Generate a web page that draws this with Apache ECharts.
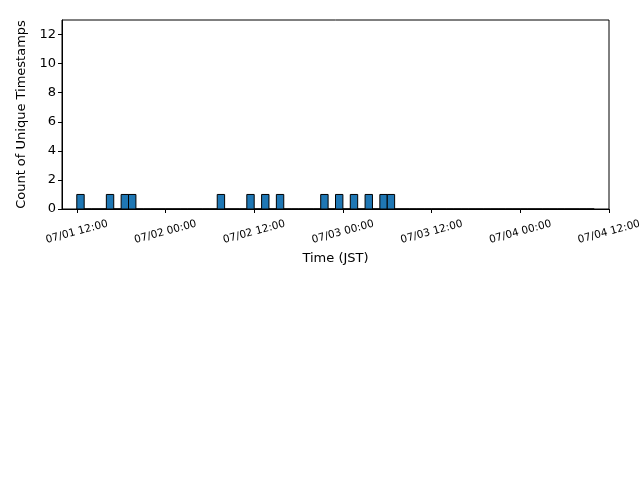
<!DOCTYPE html>
<html>
<head>
<meta charset="utf-8">
<script src="https://cdn.jsdelivr.net/npm/echarts@6/dist/echarts.min.js"></script>
<style>
  html, body { margin: 0; padding: 0; background: #fff; }
  #chart { width: 640px; height: 480px; }
</style>
</head>
<body>
<div id="chart"></div>
<script>
// hourly bins, hour 0 = 07/01 12:00 JST
const binCounts = [
  1, 0, 0, 0, 1, 0, 1, 1, 0, 0, 0, 0, 0, 0, 0, 0, 0, 0, 0, 1,
  0, 0, 0, 1, 0, 1, 0, 1, 0, 0, 0, 0, 0, 1, 0, 1, 0, 1, 0, 1,
  0, 1, 1, 0, 0, 0, 0, 0, 0, 0, 0, 0, 0, 0, 0, 0, 0, 0, 0, 0,
  0, 0, 0, 0, 0, 0, 0, 0, 0, 0
];
const tickHours = [0, 12, 24, 36, 48, 60, 72];
const tickLabels = ['07/01 12:00', '07/02 00:00', '07/02 12:00', '07/03 00:00', '07/03 12:00', '07/04 00:00', '07/04 12:00'];
const yTicks = [0, 2, 4, 6, 8, 10, 12];

const font = 'DejaVu Sans';
const chart = echarts.init(document.getElementById('chart'));

const bins = binCounts.map((c, i) => [i, i + 1, c]);

chart.setOption({
  animation: false,
  backgroundColor: '#fff',
  grid: {
    left: 62, right: 31, top: 20, bottom: 271,
    outerBoundsMode: 'none', containLabel: false,
    show: true, borderColor: '#000', borderWidth: 1
  },
  xAxis: {
    type: 'value', min: -2, max: 72,
    name: 'Time (JST)', nameLocation: 'middle', nameGap: 43,
    nameTextStyle: { fontFamily: font, fontSize: 13, color: '#000' },
    axisLine: { show: true, onZero: false, lineStyle: { color: '#000' } },
    axisTick: { show: true, length: 4, customValues: tickHours, lineStyle: { color: '#000' } },
    splitLine: { show: false },
    axisLabel: {
      customValues: tickHours,
      rotate: 15, align: 'center', verticalAlign: 'middle', margin: 23,
      fontFamily: font, fontSize: 10.5, color: '#000',
      formatter: v => tickLabels[tickHours.indexOf(v)] || ''
    }
  },
  yAxis: {
    type: 'value', min: 0, max: 13,
    name: 'Count of Unique Timestamps', nameLocation: 'middle', nameGap: 34,
    nameTextStyle: { fontFamily: font, fontSize: 13, color: '#000' },
    axisLine: { show: true, onZero: false, lineStyle: { color: '#000' } },
    axisTick: { show: true, length: 4, customValues: yTicks, lineStyle: { color: '#000' } },
    splitLine: { show: false },
    axisLabel: {
      customValues: yTicks, margin: 6,
      fontFamily: font, fontSize: 13, color: '#000'
    }
  },
  series: [{
    type: 'custom',
    data: bins,
    encode: { x: [0, 1], y: 2 },
    renderItem: (params, api) => {
      const p0 = api.coord([api.value(0), api.value(2)]);
      const p1 = api.coord([api.value(1), 0]);
      return {
        type: 'rect',
        shape: { x: p0[0], y: p0[1], width: p1[0] - p0[0], height: p1[1] - p0[1] },
        style: { fill: '#1f77b4', stroke: '#000', lineWidth: 1 }
      };
    }
  }]
});
</script>
</body>
</html>
